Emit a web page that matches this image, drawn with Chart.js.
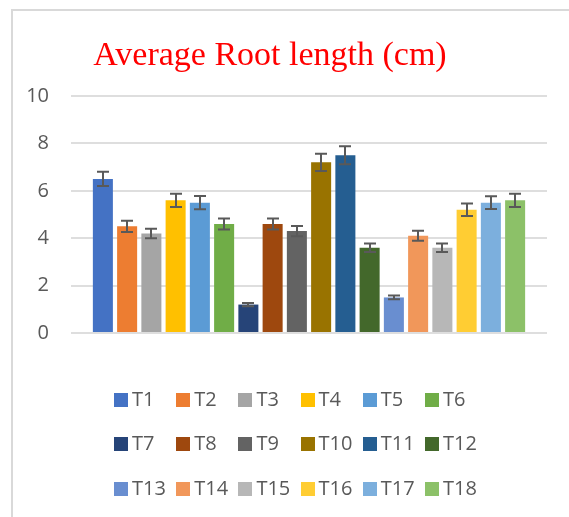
<!DOCTYPE html>
<html>
<head>
<meta charset="utf-8">
<script src="https://cdn.jsdelivr.net/npm/chart.js@4.4.1/dist/chart.umd.min.js"></script>
<style>
  html, body { margin: 0; padding: 0; background: #fff; }
  body { width: 569px; height: 517px; position: relative; overflow: hidden; }
  #frame { position: absolute; left: 11px; top: 9px; width: 600px; height: 560px; border: 2px solid #d9d9d9; box-sizing: border-box; }
  #wrap { position: absolute; left: 0; top: 0; width: 569px; height: 517px; }
  #title { position: absolute; left: 0; width: 540px; top: 37px; text-align: center;
           font-family: "Liberation Serif", "Times New Roman", serif; font-size: 34px; line-height: 34px; color: #ff0000; white-space: nowrap; }
  .lg { position: absolute; height: 20px; font-family: "Open Sans", sans-serif; font-size: 20px; color: #595959; line-height: 20px; white-space: nowrap; }
  .lg span.sw { position: absolute; left: 0; top: 3px; width: 14px; height: 14px; }
  .lg span.tx { position: absolute; left: 18px; top: -1px; }
</style>
</head>
<body>
<div id="frame"></div>
<div id="wrap"><canvas id="c" width="569" height="517"></canvas></div>
<div id="title">Average Root length (cm)</div>
<div id="legend"></div>
<script>
const seriesNames = ["T1","T2","T3","T4","T5","T6","T7","T8","T9","T10","T11","T12","T13","T14","T15","T16","T17","T18"];
const values = [6.5, 4.5, 4.2, 5.6, 5.5, 4.6, 1.2, 4.6, 4.3, 7.2, 7.5, 3.6, 1.5, 4.1, 3.6, 5.2, 5.5, 5.6];
const errors = [0.3, 0.24, 0.2, 0.28, 0.28, 0.23, 0.07, 0.23, 0.22, 0.36, 0.38, 0.18, 0.08, 0.21, 0.18, 0.26, 0.27, 0.28];
const colors = ["#4472C4","#ED7D31","#A5A5A5","#FFC000","#5B9BD5","#70AD47","#264478","#9E480E","#636363","#997300","#255E91","#43682B","#698ED0","#F1975A","#B7B7B7","#FFCD33","#7CAFDD","#8CC168"];
const yTicks = [0, 2, 4, 6, 8, 10];

const errorBars = {
  id: 'errorBars',
  afterDatasetsDraw(chart) {
    const ctx = chart.ctx;
    const ys = chart.scales.y;
    ctx.save();
    ctx.strokeStyle = '#595959';
    ctx.lineWidth = 2;
    chart.data.datasets.forEach((ds, i) => {
      const meta = chart.getDatasetMeta(i);
      const el = meta.data[0];
      const v = ds.data[0], e = errors[i];
      const x = Math.round(el.x);
      const yt = ys.getPixelForValue(v + e), yb = ys.getPixelForValue(v - e);
      ctx.beginPath();
      ctx.moveTo(x, yt); ctx.lineTo(x, yb);
      ctx.moveTo(x - 6, yt); ctx.lineTo(x + 6, yt);
      ctx.moveTo(x - 6, yb); ctx.lineTo(x + 6, yb);
      ctx.stroke();
    });
    ctx.restore();
  }
};

const datasets = seriesNames.map((n, i) => ({
  label: n,
  data: [values[i]],
  backgroundColor: colors[i],
  borderWidth: 0,
  categoryPercentage: 0.917,
  barPercentage: 0.826
}));

new Chart(document.getElementById('c'), {
  type: 'bar',
  data: { labels: [''], datasets },
  options: {
    responsive: false,
    animation: false,
    layout: { padding: { left: 0, right: 22, top: 96, bottom: 184 } },
    plugins: { legend: { display: false }, title: { display: false }, tooltip: { enabled: false } },
    scales: {
      x: { display: false },
      y: {
        min: 0, max: 10,
        afterBuildTicks(scale) { scale.ticks = yTicks.map(v => ({ value: v })); },
        afterFit(scale) { scale.width = 71; },
        border: { display: false },
        grid: { color: '#dedede', lineWidth: 2, drawTicks: false },
        ticks: { padding: 22, color: '#595959', font: { family: 'Open Sans', size: 20 } }
      }
    }
  },
  plugins: [errorBars]
});

const lg = document.getElementById('legend');
const rowsY = [390, 434, 479];
seriesNames.forEach((n, i) => {
  const r = Math.floor(i / 6), c = i % 6;
  const d = document.createElement('div');
  d.className = 'lg';
  d.style.left = (114 + c * 62.2) + 'px';
  d.style.top = rowsY[r] + 'px';
  d.innerHTML = '<span class="sw" style="background:' + colors[i] + '"></span><span class="tx">' + n + '</span>';
  lg.appendChild(d);
});
</script>
</body>
</html>
